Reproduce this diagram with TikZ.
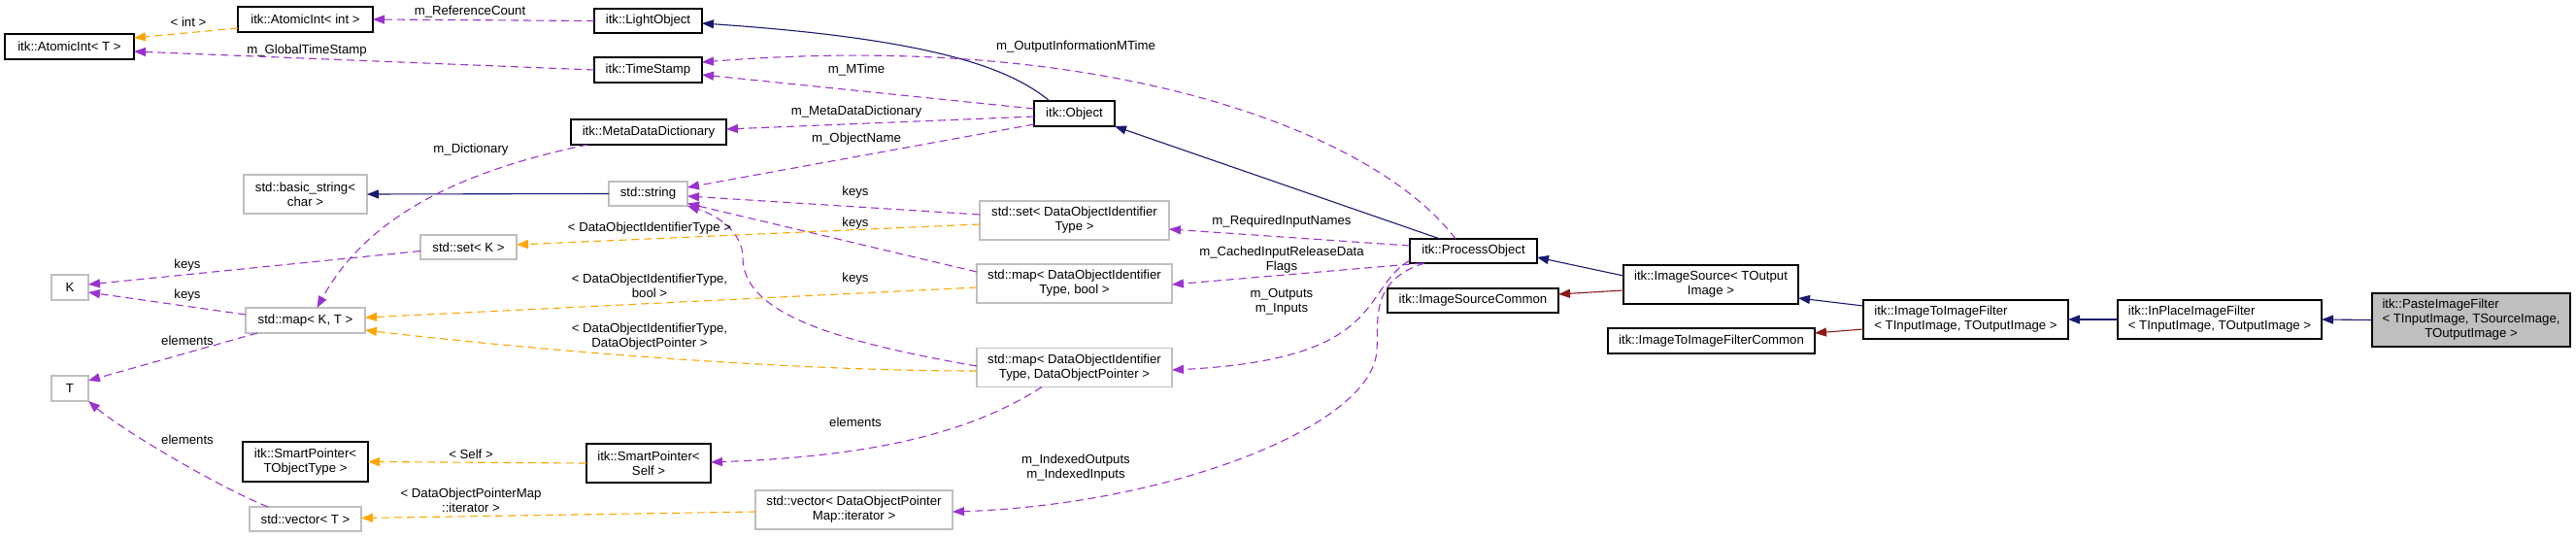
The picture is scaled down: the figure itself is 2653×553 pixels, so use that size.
\documentclass[tikz,border=0pt]{standalone}
\usepackage{fontspec}
\setmainfont{Liberation Sans}
\usetikzlibrary{arrows.meta,calc}
\definecolor{DoxPurple}{HTML}{9A32CD}
\definecolor{DoxOrange}{HTML}{FFA500}
\definecolor{DoxNavy}{HTML}{191970}
\definecolor{DoxRed}{HTML}{8B1A1A}
\definecolor{DoxGrey}{HTML}{BFBFBF}
\tikzset{
  docbox/.style={draw=black, fill=white, line width=1.6pt, inner sep=0pt, outer sep=0pt, align=center},
  extbox/.style={docbox, draw=DoxGrey},
  boxsize/.style 2 args={minimum width=#1pt, minimum height=#2pt},
  member/.style={draw=DoxPurple, dash pattern=on 8pt off 5pt, line width=1.1pt, -{Triangle[length=12pt,width=9pt]}},
  tmpl/.style={member, draw=DoxOrange},
  inherit/.style={draw=DoxNavy, line width=1.1pt, -{Triangle[length=12pt,width=9pt]}},
  privinh/.style={inherit, draw=DoxRed},
  lbl/.style={inner sep=0pt, text=black, align=center},
}
\begin{document}
\begin{tikzpicture}[x=1pt, y=-1pt, font=\fontsize{13.2}{15}\selectfont]
\useasboundingbox (0,0) rectangle (2653,553);

% class boxes
\node[docbox, boxsize={133}{26}] (aiT) at (71.5,48) {itk::AtomicInt< T >};
\node[docbox, boxsize={139}{26}] (aiInt) at (314.5,20) {itk::AtomicInt< int >};
\node[docbox, boxsize={111}{25}] (lobj) at (667.5,21.5) {itk::LightObject};
\node[docbox, boxsize={111}{26}] (tstamp) at (667.5,72) {itk::TimeStamp};
\node[docbox, boxsize={160}{26}] (mdd) at (668,136) {itk::MetaDataDictionary};
\node[extbox, boxsize={127}{40}] (bstr) at (314.5,200) {std::basic\_string<\\char >};
\node[extbox, boxsize={81}{25}] (str) at (667.5,199.5) {std::string};
\node[extbox, boxsize={99}{25}] (setK) at (482.5,254.5) {std::set< K >};
\node[extbox, boxsize={38}{26}] (K) at (72,296) {K};
\node[extbox, boxsize={123}{26}] (mapKT) at (314.5,330) {std::map< K, T >};
\node[extbox, boxsize={38}{26}] (T) at (72,400) {T};
\node[docbox, boxsize={129}{41}] (spTOT) at (314.5,475.5) {itk::SmartPointer<\\TObjectType >};
\node[docbox, boxsize={128}{40}] (spSelf) at (668,477) {itk::SmartPointer<\\Self >};
\node[extbox, boxsize={115}{25}] (vecT) at (314.5,534.5) {std::vector< T >};
\node[docbox, boxsize={83}{26}] (obj) at (1106.5,117) {itk::Object};
\node[extbox, boxsize={195}{40}] (setDOI) at (1106.5,227) {std::set< DataObjectIdentifier\\Type >};
\node[extbox, boxsize={201}{40}] (mapBool) at (1106.5,292) {std::map< DataObjectIdentifier\\Type, bool >};
\node[extbox, boxsize={201}{40}] (mapDOP) at (1106.5,378.5) {std::map< DataObjectIdentifier\\Type, DataObjectPointer >};
\node[extbox, boxsize={203}{40}] (vecIt) at (879.5,525) {std::vector< DataObjectPointer\\Map::iterator >};
\node[docbox, boxsize={131}{25}] (pobj) at (1517.5,258.5) {itk::ProcessObject};
\node[docbox, boxsize={176}{25}] (isc) at (1517,309.5) {itk::ImageSourceCommon};
\node[docbox, boxsize={180}{40}] (isrc) at (1762,293) {itk::ImageSource< TOutput\\Image >};
\node[docbox, boxsize={213}{26}] (i2ic) at (1762.5,351) {itk::ImageToImageFilterCommon};
\node[docbox, boxsize={211}{40}, align=left] (i2i) at (2024.5,329) {itk::ImageToImageFilter\\< TInputImage, TOutputImage >};
\node[docbox, boxsize={210}{40}, align=left] (inpl) at (2286,329) {itk::InPlaceImageFilter\\< TInputImage, TOutputImage >};
\node[docbox, boxsize={204}{55}, fill=DoxGrey] (paste) at (2545,329.5)
  {\begin{tabular}{@{}l@{}}itk::PasteImageFilter\\< TInputImage, TSourceImage,\\\multicolumn{1}{@{}c@{}}{TOutputImage >}\end{tabular}};

% inheritance
\draw[inherit] ($(obj.north west)+(16,0)$) .. controls +(-41,-34) and +(237,16) .. ($(lobj.east)+(0,2.5)$);
\draw[inherit] (str.west) -- (bstr.east);
\draw[inherit] ($(pobj.north west)+(31,0)$) -- (obj.south east);
\draw[inherit] ($(isrc.west)+(0,-9)$) -- ($(pobj.east)+(0,6.5)$);
\draw[privinh] ($(isrc.west)+(0,6)$) -- ($(isc.east)+(0,-6.5)$);
\draw[inherit] ($(i2i.west)+(0,-14)$) -- ($(isrc.east)+(0,14)$);
\draw[privinh] ($(i2i.west)+(0,10)$) -- ($(i2ic.east)+(0,-8)$);
\draw[inherit] (inpl.west) -- (i2i.east);
\draw[inherit] (paste.west) -- (inpl.east);

% members
\draw[member] (lobj.west) -- (aiInt.east) node[lbl] (lRef) at (484,12) {m\_ReferenceCount};
\draw[member] (tstamp.west) -- ($(aiT.east)+(0,5)$) node[lbl] (lGTS) at (316,52) {m\_GlobalTimeStamp};
\draw[member] ($(obj.west)+(0,-5)$) -- ($(tstamp.east)+(0,5)$) node[lbl] (lMT) at (882,72) {m\_MTime};
\draw[member] ($(pobj.north west)+(47,0)$) .. controls +(-79,-106) and +(427,-34) .. ($(tstamp.east)+(0,-8)$)
  node[lbl] (lOIM) at (1108,48) {m\_OutputInformationMTime};
\draw[member] ($(obj.west)+(0,3)$) -- ($(mdd.east)+(0,-3)$) node[lbl] (lMDD) at (882,115) {m\_MetaDataDictionary};
\draw[member] ($(obj.south west)+(0,-2)$) -- ($(str.east)+(0,-6.5)$) node[lbl] (lON) at (882,143) {m\_ObjectName};
\draw[member] ($(mdd.south west)+(17,0)$) .. controls +(-125,26) and +(53,-97) .. ($(mapKT.north)+(12,0)$)
  node[lbl] (lDict) at (485,154) {m\_Dictionary};
\draw[member] ($(setK.west)+(0,4)$) -- ($(K.east)+(0,-3)$) node[lbl] (lK1) at (193,273) {keys};
\draw[member] ($(mapKT.west)+(0,-6)$) -- ($(K.east)+(0,5)$) node[lbl] (lK2) at (193,304) {keys};
\draw[member] ($(mapKT.south west)+(12,0)$) -- ($(T.east)+(0,-8)$) node[lbl] (lE1) at (193,351) {elements};
\draw[member] ($(vecT.north west)+(19,0)$) .. controls +(-50,-20) and +(35,30) .. (T.south east)
  node[lbl] (lE2) at (193,453) {elements};
\draw[member] ($(setDOI.west)+(0,-6)$) -- ($(str.east)+(0,2.5)$) node[lbl] (lKs1) at (881,198) {keys};
\draw[member] ($(mapBool.west)+(0,-12)$) -- ($(str.east)+(0,10)$) node[lbl] (lKs2) at (881,230) {keys};
\draw[member] ($(mapDOP.west)+(0,-1.5)$) .. controls +(-156,-27) and +(0,55) .. (765,265)
  .. controls +(0,-25) and +(32,10) .. (str.south east) node[lbl] (lKs3) at (881,287) {keys};
\draw[member] ($(mapDOP.south west)+(67,0)$) .. controls +(-73,47) and +(168,-6) .. ($(spSelf.east)+(0,-1)$)
  node[lbl] (lElem) at (881,435) {elements};
\draw[member] ($(pobj.west)+(0,-5.5)$) -- ($(setDOI.east)+(0,9)$) node[lbl] (lRIN) at (1320,228) {m\_RequiredInputNames};
\draw[member] ($(pobj.south west)+(13,0)$) -- ($(mapBool.east)+(0,1)$)
  node[lbl] (lCache) at (1320,267.5) {m\_CachedInputReleaseData\\Flags};
\draw[member] ($(pobj.south west)+(0,-3)$) .. controls +(-52,31) and +(223,-11) .. ($(mapDOP.east)+(0,2.5)$)
  node[lbl] (lOI) at (1320,310.5) {m\_Outputs\\m\_Inputs};
\draw[member] ($(pobj.south west)+(15,0)$) .. controls +(-57,18) and +(2,-30) .. (1418,360)
  .. controls +(-3,80) and +(219,-7) .. ($(vecIt.east)+(0,2)$)
  node[lbl] (lIdx) at (1108,481.5) {m\_IndexedOutputs\\m\_IndexedInputs};

% template instances
\draw[tmpl] ($(aiInt.west)+(0,9)$) -- ($(aiT.east)+(0,-9)$) node[lbl] (lInt) at (194,23) {< int >};
\draw[tmpl] ($(setDOI.west)+(0,4)$) -- ($(setK.east)+(0,-2.5)$) node[lbl] (lDOIT) at (669,235) {< DataObjectIdentifierType >};
\draw[tmpl] ($(mapBool.west)+(0,4)$) -- ($(mapKT.east)+(0,-3)$)
  node[lbl] (lBool) at (669,294) {< DataObjectIdentifierType,\\bool >};
\draw[tmpl] ($(mapDOP.west)+(0,3.5)$) .. controls +(-200,0) and +(170,20) .. ($(mapKT.east)+(0,10)$)
  node[lbl] (lDOP) at (669,347) {< DataObjectIdentifierType,\\DataObjectPointer >};
\draw[tmpl] (spSelf.west) -- (spTOT.east) node[lbl] (lSelf) at (485,468) {< Self >};
\draw[tmpl] ($(vecIt.west)+(0,2)$) -- ($(vecT.east)+(0,-1)$)
  node[lbl] (lIter) at (485,515) {< DataObjectPointerMap\\::iterator >};
\end{tikzpicture}
\end{document}
